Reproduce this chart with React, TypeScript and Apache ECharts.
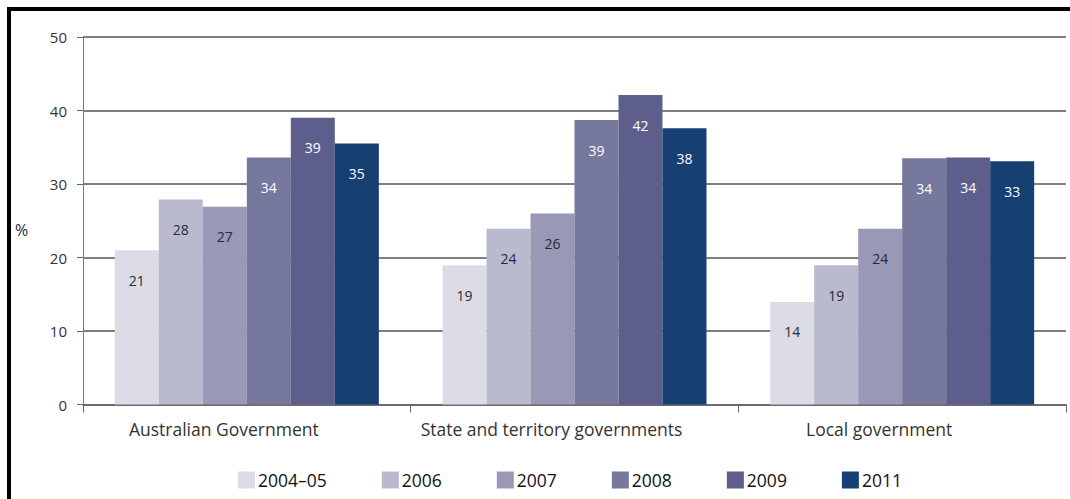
import React, { useEffect, useRef } from "react";
import * as echarts from "echarts";

const categories = ["Australian Government", "State and territory governments", "Local government"];
const seriesNames = ["2004–05", "2006", "2007", "2008", "2009", "2011"];
const colors = ["#dcdce7", "#b9bace", "#9998b6", "#77789d", "#5d5e8b", "#163f72"];
const labelColors = ["#2a2a36", "#2a2a36", "#2a2a36", "#ffffff", "#ffffff", "#ffffff"];

// bar heights
const values2004_05 = [21.0, 18.95, 13.96];
const values2006 = [27.9, 23.9, 18.95];
const values2007 = [26.9, 26.0, 23.9];
const values2008 = [33.6, 38.7, 33.5];
const values2009 = [39.0, 42.1, 33.6];
const values2011 = [35.5, 37.6, 33.1];
// printed labels
const labels2004_05 = [21, 19, 14];
const labels2006 = [28, 24, 19];
const labels2007 = [27, 26, 24];
const labels2008 = [34, 39, 34];
const labels2009 = [39, 42, 34];
const labels2011 = [35, 38, 33];

const yTicks = [0, 10, 20, 30, 40, 50];

const allValues = [values2004_05, values2006, values2007, values2008, values2009, values2011];
const allLabels = [labels2004_05, labels2006, labels2007, labels2008, labels2009, labels2011];

const FONT = "Open Sans";

export default function App() {
  const ref = useRef<HTMLDivElement>(null);
  useEffect(() => {
    if (!ref.current) return;
    const chart = echarts.init(ref.current, null, { renderer: "svg" });
    chart.setOption({
      animation: false,
      backgroundColor: "#ffffff",
      graphic: [
        {
          type: "rect",
          shape: { x: 9, y: 9, width: 1200, height: 700 },
          style: { fill: "none", stroke: "#000", lineWidth: 4 },
          silent: true,
        },
        {
          type: "text",
          left: 15,
          top: 222,
          style: { text: "%", font: `16px "${FONT}"`, fill: "#1d2540" },
        },
      ],
      grid: { left: 83, right: 4, top: 37, bottom: 94.5, containLabel: false },
      legend: {
        left: 238,
        top: 471,
        padding: 0,
        itemWidth: 17,
        itemHeight: 17,
        itemGap: 55,
        icon: "rect",
        data: seriesNames,
        textStyle: { fontFamily: FONT, fontSize: 17.5, color: "#111", padding: [0, 0, 0, -2] },
      },
      xAxis: {
        type: "category",
        data: categories,
        axisLine: { lineStyle: { color: "#666", width: 1.5 } },
        axisTick: { show: true, length: 8, lineStyle: { color: "#666" } },
        axisLabel: {
          interval: 0,
          hideOverlap: false,
          fontFamily: FONT,
          fontSize: 17.5,
          color: "#333",
          margin: 15,
          padding: [0, 46, 0, 0],
        },
      },
      yAxis: {
        type: "value",
        min: yTicks[0],
        max: yTicks[yTicks.length - 1],
        interval: 10,
        axisLine: { show: true, lineStyle: { color: "#777", width: 1 } },
        axisTick: { show: true, length: 6, lineStyle: { color: "#666" } },
        axisLabel: { fontFamily: FONT, fontSize: 15, color: "#333", margin: 16 },
        splitLine: { lineStyle: { color: "#555", width: 1.5 } },
      },
      series: seriesNames.map((name, i) => ({
        name,
        type: "bar",
        data: allValues[i],
        barWidth: 44,
        barGap: "0%",
        itemStyle: { color: colors[i] },
        label: {
          show: true,
          position: "insideTop",
          distance: 23,
          fontFamily: FONT,
          fontSize: 14,
          color: labelColors[i],
          formatter: (p: any) => String(allLabels[i][p.dataIndex]),
        },
      })),
    });
    return () => chart.dispose();
  }, []);
  return (
    <div
      ref={ref}
      style={{ position: "fixed", left: 0, top: 0, width: 1070, height: 499 }}
    />
  );
}
